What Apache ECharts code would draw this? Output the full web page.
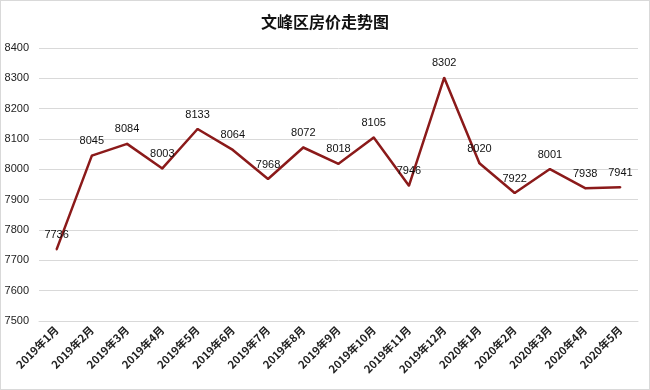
<!DOCTYPE html>
<html><head><meta charset="utf-8">
<script src="https://cdn.jsdelivr.net/npm/echarts@6/dist/echarts.min.js"></script>
<style>html,body{margin:0;padding:0;background:#fff}#c{width:650px;height:390px;box-sizing:border-box;border:1px solid #d9d9d9}</style>
</head><body><div id="c"></div>
<script>
const categories = ['2019年1月','2019年2月','2019年3月','2019年4月','2019年5月','2019年6月','2019年7月','2019年8月','2019年9月','2019年10月','2019年11月','2019年12月','2020年1月','2020年2月','2020年3月','2020年4月','2020年5月'];
const prices = [7736,8045,8084,8003,8133,8064,7968,8072,8018,8105,7946,8302,8020,7922,8001,7938,7941];
const title = '文峰区房价走势图';
const chart = echarts.init(document.getElementById('c'));
chart.setOption({
  animation:false,
  title:{text:title,left:'center',top:8,textStyle:{fontSize:16,fontWeight:'bold',color:'#111',fontFamily:'Noto Sans CJK SC'}},
  grid:{left:38,right:11,top:47,bottom:68},
  xAxis:{type:'category',data:categories,boundaryGap:true,
    axisLine:{lineStyle:{color:'#d9d9d9'}},axisTick:{lineStyle:{color:'#d9d9d9'},length:4},
    axisLabel:{rotate:45,fontSize:11,fontWeight:'bold',color:'#222',margin:7,interval:0,fontFamily:'Noto Sans CJK SC'}},
  yAxis:{type:'value',min:7500,max:8400,interval:100,
    axisLine:{show:false},axisTick:{show:false},
    splitLine:{lineStyle:{color:'#d9d9d9'}},
    axisLabel:{fontSize:11,color:'#222',margin:10,fontFamily:'Liberation Sans',formatter:v=>String(v)}},
  series:[{type:'line',data:prices,symbol:'circle',symbolSize:2,showSymbol:true,showAllSymbol:true,
    itemStyle:{color:'#8b1a1a'},
    lineStyle:{color:'#8b1a1a',width:2.5},
    labelLayout:{hideOverlap:false},
    label:{show:true,position:'top',distance:8,fontSize:11,color:'#111',fontFamily:'Liberation Sans'}}]
});
</script></body></html>
